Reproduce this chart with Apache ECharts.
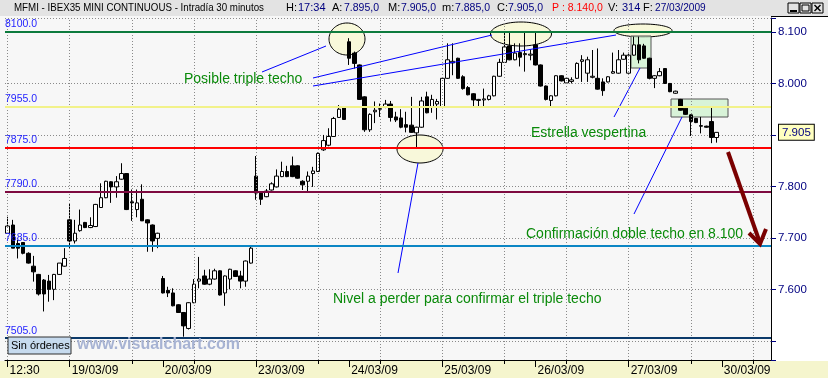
<!DOCTYPE html>
<html><head><meta charset="utf-8">
<script src="https://cdn.jsdelivr.net/npm/echarts/dist/echarts.min.js"></script>
<style>html,body{margin:0;padding:0;background:#f7f7f7}#c{width:828px;height:378px}</style>
</head><body><div id="c"></div><script>
// [open, close, low, high] per 30-minute bar
const d18 = [[7709,7723,7709,7741],[7725,7680,7680,7735],[7689,7680,7660,7696],[7691,7670,7668,7691],[7670,7651,7650,7672],[7645,7634,7615,7665],[7629,7591,7588,7630],[7618,7591,7557,7620],[7616,7600,7576,7628],[7600,7629,7579,7630],[7629,7651,7628,7651],[7645,7660,7644,7680]];
const d19 = [[7735,7694,7680,7767],[7694,7709,7689,7735],[7714,7725,7712,7755],[7730,7720,7719,7731],[7720,7724,7719,7740],[7722,7765,7721,7766],[7759,7778,7758,7806],[7778,7810,7777,7811],[7809,7799,7768,7810],[7799,7809,7778,7820],[7814,7825,7813,7845],[7825,7755,7754,7826],[7770,7768,7733,7794],[7755,7768,7740,7794],[7775,7733,7733,7804],[7735,7729,7673,7736],[7725,7694,7673,7726],[7699,7709,7680,7710]];
const d20 = [[7621,7593,7592,7626],[7598,7593,7585,7605],[7593,7568,7567,7602],[7570,7555,7554,7571],[7555,7529,7508,7556],[7524,7574,7522,7575],[7574,7610,7573,7620],[7616,7620,7602,7663],[7626,7610,7609,7638],[7610,7620,7608,7639],[7620,7636,7619,7640],[7636,7589,7588,7637],[7593,7626,7568,7627],[7620,7639,7600,7640],[7636,7625,7624,7637],[7626,7616,7602,7636],[7616,7655,7605,7656],[7651,7680,7650,7685]];
const d23 = [[7820,7787,7774,7859],[7787,7775,7764,7788],[7780,7791,7779,7795],[7793,7805,7792,7808],[7799,7820,7798,7833],[7819,7829,7818,7848],[7829,7819,7818,7840],[7840,7819,7818,7858],[7840,7816,7815,7841],[7810,7803,7793,7812],[7810,7820,7790,7829],[7825,7830,7799,7838],[7829,7864,7828,7866],[7871,7889,7869,7900],[7880,7897,7878,7913],[7897,7932,7896,7935],[7934,7950,7933,7958],[7955,7930,7929,7956]];
const d24 = [[8081,8049,8036,8088],[8059,8039,8029,8062],[8036,7969,7968,8037],[7974,7910,7906,7975],[7910,7940,7906,7942],[7945,7948,7923,7965],[7950,7951,7935,7961],[7954,7960,7952,7968],[7960,7934,7926,7966],[7935,7929,7925,7945],[7933,7915,7913,7950],[7920,7915,7905,7945],[7919,7905,7904,7974],[7904,7915,7874,7916],[7915,7966,7914,7974],[7974,7943,7942,7984],[7955,7969,7943,7978],[7960,7965,7930,7970]];
const d25 = [[7954,8010,7952,8012],[8010,8046,8009,8078],[8040,8043,8016,8078],[8049,8010,8009,8050],[8013,7990,7988,8016],[7992,7978,7977,7995],[7980,7968,7955,7981],[7967,7969,7953,7970],[7968,7970,7953,7990],[7969,7976,7967,7978],[7976,8014,7975,8015],[8014,8041,8013,8048],[8041,8071,8040,8099],[8073,8046,8045,8099],[8046,8059,8045,8078],[8060,8051,8033,8078],[8056,8058,8023,8099],[8055,8057,8045,8066]];
const d26 = [[8075,8036,8035,8099],[8036,7995,7994,8037],[7995,7969,7967,7996],[7967,7976,7955,7977],[7976,8015,7975,8016],[8015,8005,8004,8016],[8001,8010,8000,8011],[8004,8007,8000,8012],[8010,8039,8009,8041],[8043,8046,8003,8055],[8020,8046,8003,8052],[8012,8014,8010,8065],[8010,7989,7988,8068],[8003,7986,7976,8010],[8003,8013,8002,8014],[8020,8023,8019,8060],[8020,8046,8019,8065],[8047,8055,8046,8060]];
const d27 = [[8020,8055,8019,8060],[8055,8075,8054,8091],[8075,8046,8039,8091],[8073,8049,8048,8077],[8049,8010,8008,8050],[8010,8015,7991,8016],[8015,8023,8014,8030],[8029,8000,7999,8030],[8000,7984,7983,8001],[7981,7985,7980,7986],[7969,7948,7947,7970],[7952,7940,7939,7953],[7939,7926,7898,7940],[7932,7924,7923,7933],[7918,7917,7903,7935],[7917,7915,7914,7918],[7926,7895,7884,7954],[7895,7905,7885,7905]];

const tickIdx = [0, 12, 30, 48, 66, 84, 102, 120, 138];
const tickLabels = ['12:30','19/03/09','20/03/09','23/03/09','24/03/09','25/03/09','26/03/09','27/03/09','30/03/09'];
const levels = [8100, 7955, 7875, 7790, 7685, 7505];
const levelLabels = ['8100.0','7955.0','7875.0','7790.0','7685.0','7505.0'];
const levelColors = ['#0d7b3d','#f2f28a','#ff0000','#7e0a40','#0b86c4','#0c3a6a'];
const nSlots = 148;

const ohlc = [].concat(d18, d19, d20, d23, d24, d25, d26, d27);
const cats = Array.from({length: nSlots}, (_, i) => String(i));
const gridIdx = []; for (let i = 0; i < nSlots; i += 12) gridIdx.push(i);
const lastClose = ohlc[ohlc.length - 1][1];

function ell(cx, cy, rx, ry) {
  const pts = [];
  for (let k = 0; k < 72; k++) { const a = k / 72 * 2 * Math.PI; pts.push([cx + rx * Math.cos(a), cy + ry * Math.sin(a)]); }
  return {type: 'polygon', z: 1, silent: true, shape: {points: pts}, style: {fill: '#f8f8da', stroke: '#000', lineWidth: 1}};
}
function ln(x1, y1, x2, y2, color, w, z) {
  return {type: 'line', z: z || 1, silent: true, shape: {x1, y1, x2, y2}, style: {stroke: color, lineWidth: w || 1}};
}
function txt(x, y, s, color, size, extra, scaleX) {
  const o = {type: 'text', z: 6, silent: true, x, y, style: Object.assign({text: s, fill: color, fontSize: size, fontFamily: 'Arial, "Liberation Sans", sans-serif', verticalAlign: 'middle'}, extra || {})};
  if (scaleX) o.scaleX = scaleX;
  return o;
}
const F = 'Arial, "Liberation Sans", sans-serif';

const chart = echarts.init(document.getElementById('c'));
chart.setOption({
  animation: false,
  backgroundColor: '#f7f7f7',
  grid: {left: 5, right: 57, top: 18, bottom: 18, containLabel: false},
  xAxis: [{
    type: 'category', data: cats, boundaryGap: true, position: 'bottom',
    axisLine: {show: true, lineStyle: {color: '#000', width: 1}},
    axisTick: {show: true, alignWithLabel: true, length: 7, interval: (i) => tickIdx.indexOf(i) >= 0, lineStyle: {color: '#000'}},
    axisLabel: {show: true, interval: (i) => tickIdx.indexOf(i) >= 0, formatter: (v, i) => { const k = tickIdx.indexOf(Number(v)); return k >= 0 ? tickLabels[k] : ''; },
      align: 'left', margin: 5, padding: [0, 0, 0, 2], color: '#000', fontSize: 12, fontFamily: F},
    splitLine: {show: false}
  }, {
    type: 'category', data: cats, boundaryGap: true, position: 'bottom', offset: 0,
    axisLine: {show: false},
    axisTick: {show: true, alignWithLabel: true, length: 4, interval: (i) => i % 12 === 0, lineStyle: {color: '#000'}},
    axisLabel: {show: false}, splitLine: {show: false}
  }],
  yAxis: {
    type: 'value', position: 'right', min: 7462.7, max: 8127.2,
    axisLine: {show: true, lineStyle: {color: '#000', width: 1}},
    axisTick: {show: true, length: 5, lineStyle: {color: '#000080'}},
    axisLabel: {color: '#000080', fontSize: 11.5, margin: 7, fontFamily: F,
      formatter: (v) => (Math.abs(v % 100) < 0.01 && v !== 7500 && v !== 7900) ? (v / 1000).toFixed(3) : ''},
    splitLine: {show: true, lineStyle: {color: '#8a8a8a', type: [1, 2], width: 1}}
  },
  series: [
    { // vertical dotted grid
      type: 'line', data: [], z: 0, silent: true,
      markLine: {silent: true, symbol: ['none', 'none'], label: {show: false}, animation: false,
        lineStyle: {color: '#8a8a8a', type: [1, 2], width: 1},
        data: gridIdx.map(i => ({xAxis: i}))}
    },
    { // level labels (under candles)
      type: 'line', data: [], z: 1, silent: true,
      markLine: {silent: true, symbol: ['none', 'none'], animation: false,
        data: levels.map((v, i) => ({yAxis: v, lineStyle: {color: 'rgba(0,0,0,0)', width: 0},
          label: {show: true, position: 'insideStartTop', formatter: levelLabels[i], color: '#1e1eff', fontSize: 10.5, fontFamily: F, distance: [0, 2]}}))}
    },
    {
      type: 'candlestick', data: ohlc, z: 2, barWidth: 4,
      itemStyle: {color: '#ffffff', color0: '#000000', borderColor: '#000000', borderColor0: '#000000', borderWidth: 1},
      markLine: {silent: true, symbol: ['none', 'none'], animation: false,
        data: [{yAxis: lastClose}],
        lineStyle: {color: 'rgba(0,0,0,0)', width: 0},
        label: {show: true, position: 'end', distance: 8, formatter: (p) => (p.value / 1000).toFixed(3),
          backgroundColor: '#ffffc0', borderColor: '#000', borderWidth: 1, padding: [2, 3, 1, 3], color: '#000080', fontSize: 11.5, fontFamily: F}}
    },
    { // level lines (over candles)
      type: 'line', data: [], z: 3, silent: true,
      markLine: {silent: true, symbol: ['none', 'none'], animation: false, label: {show: false},
        data: levels.map((v, i) => ({yAxis: v, lineStyle: {color: levelColors[i], width: 2, type: 'solid'}}))}
    }
  ],
  graphic: [
    {type: 'rect', z: 5, silent: true, shape: {x: 0, y: 0, width: 828, height: 16}, style: {fill: '#e3e3e3'}},
    txt(14, 8, 'MFMI - IBEX35 MINI CONTINUOUS - Intradía 30 minutos', '#000', 11, null, 0.885),
    txt(286, 8, 'H:', '#000', 11), txt(298, 8, '17:34', '#000080', 11),
    txt(332, 8, 'A:', '#000', 11), txt(344, 8, '7.895,0', '#000080', 10.5),
    txt(388, 8, 'M:', '#000', 11), txt(401, 8, '7.905,0', '#000080', 10.5),
    txt(442, 8, 'm:', '#000', 11), txt(455, 8, '7.885,0', '#000080', 10.5),
    txt(497, 8, 'C:', '#000', 11), txt(508, 8, '7.905,0', '#000080', 10.5),
    txt(552, 8, 'P : 8.140,0', '#ff0000', 10.5),
    txt(608, 8, 'V:', '#000', 11), txt(622, 8, '314', '#000080', 11),
    txt(643, 8, 'F:', '#000', 11), txt(655, 8, '27/03/2009', '#000080', 11, null, 0.92),
    {type: 'rect', z: 6, silent: true, shape: {x: 788, y: 3, width: 11, height: 10}, style: {fill: '#e3e3e3', stroke: '#000', lineWidth: 1}},
    {type: 'rect', z: 6, silent: true, shape: {x: 800, y: 3, width: 11, height: 10}, style: {fill: '#e3e3e3', stroke: '#000', lineWidth: 1}},
    {type: 'rect', z: 6, silent: true, shape: {x: 812, y: 3, width: 11, height: 10}, style: {fill: '#e3e3e3', stroke: '#000', lineWidth: 1}},
    ln(790, 11, 797, 11, '#000', 2, 7),
    {type: 'rect', z: 7, silent: true, shape: {x: 802, y: 5, width: 7, height: 6}, style: {fill: 'none', stroke: '#000', lineWidth: 1}},
    ln(814.5, 5, 820.5, 11, '#000', 1.5, 7), ln(820.5, 5, 814.5, 11, '#000', 1.5, 7),
    {type: 'rect', z: -1, silent: true, shape: {x: 0, y: 361, width: 828, height: 17}, style: {fill: '#f5f5cd'}},
    {type: 'rect', z: -1, silent: true, shape: {x: 771, y: 16, width: 57, height: 345}, style: {fill: '#ffffff'}},
    ln(771, 16.5, 828, 16.5, '#000', 1, 6),
    // annotations
    ell(347, 39, 18, 16), ell(420, 149, 23, 14), ell(521, 34, 30.5, 12), ell(643, 30.5, 29, 6.5),
    {type: 'rect', z: 1, silent: true, shape: {x: 631, y: 36, width: 20, height: 32}, style: {fill: 'rgba(205,242,205,0.75)', stroke: '#555', lineWidth: 1}},
    {type: 'rect', z: 1, silent: true, shape: {x: 671, y: 99, width: 57, height: 18}, style: {fill: 'rgba(205,242,205,0.75)', stroke: '#555', lineWidth: 1}},
    ln(262, 72, 326, 46, '#0000ff', 1, 4),
    ln(313, 78, 492, 35, '#0000ff', 1, 4),
    ln(313, 86, 616, 35, '#0000ff', 1, 4),
    ln(614, 117, 640, 68, '#0000ff', 1, 4),
    ln(634, 214, 682, 117, '#0000ff', 1, 4),
    ln(398, 273, 418, 163, '#0000ff', 1, 4),
    txt(184, 79, 'Posible triple techo', '#0a8a0a', 14),
    txt(531, 133, 'Estrella vespertina', '#0a8a0a', 14),
    txt(526, 234, 'Confirmación doble techo en 8.100', '#0a8a0a', 14),
    txt(333, 299, 'Nivel a perder para confirmar el triple techo', '#0a8a0a', 14),
    {type: 'polyline', z: 7, silent: true, shape: {points: [[728, 152], [760, 243]]}, style: {stroke: '#7a0000', lineWidth: 4, fill: 'none'}},
    {type: 'polyline', z: 7, silent: true, shape: {points: [[749, 233], [760, 244], [766, 229]]}, style: {stroke: '#7a0000', lineWidth: 4, fill: 'none', lineJoin: 'miter'}},
    {type: 'rect', z: 6, silent: true, shape: {x: 8, y: 337, width: 63, height: 17}, style: {fill: '#c6daee', stroke: '#303030', lineWidth: 1}},
    txt(11, 346, 'Sin órdenes', '#000', 11),
    txt(77, 345, 'www.visualchart.com', '#a7b3d3', 16, {fontWeight: 'bold'})
  ]
});
</script></body></html>
